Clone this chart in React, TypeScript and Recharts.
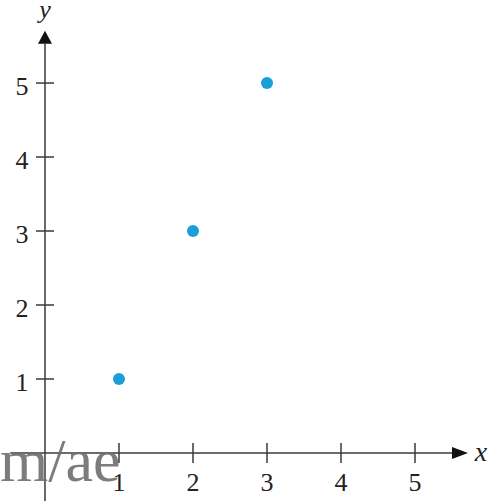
import React from "react";
import { ScatterChart, Scatter, XAxis, YAxis, ReferenceLine, ReferenceDot } from "recharts";

const pointX = [1, 2, 3];
const pointY = [1, 3, 5];
const xTicks = [1, 2, 3, 4, 5];
const yTicks = [1, 2, 3, 4, 5];

const W = 495;
const H = 501;
const X_DOMAIN: [number, number] = [-0.608, 6.081];
const Y_DOMAIN: [number, number] = [-0.649, 6.122];
const X_AXIS_START = -0.47;
const X_AXIS_END = 5.5;
const Y_AXIS_START = -0.649;
const Y_AXIS_END = 5.53;

const AXIS_COLOR = "#3a3a3a";
const POINT_COLOR = "#1a9fdb";
const FONT = "'Liberation Serif', 'DejaVu Serif', serif";

const data = pointX.map((x, i) => ({ x, y: pointY[i] }));

const XTick = (label: string) => (props: any) => (
  <g>
    <line x1={props.cx} x2={props.cx} y1={props.cy - 10} y2={props.cy + 10} stroke={AXIS_COLOR} strokeWidth={1.5} />
    <text x={props.cx} y={props.cy + 38} textAnchor="middle" fontFamily={FONT} fontSize={26} fill="#222">
      {label}
    </text>
  </g>
);

const YTick = (label: string) => (props: any) => (
  <g>
    <line x1={props.cx - 9} x2={props.cx + 9} y1={props.cy} y2={props.cy} stroke={AXIS_COLOR} strokeWidth={1.5} />
    <text x={props.cx - 23} y={props.cy + 12} textAnchor="middle" fontFamily={FONT} fontSize={26} fill="#222">
      {label}
    </text>
  </g>
);

const RightArrow = (props: any) => (
  <g>
    <path d={`M${props.cx},${props.cy - 6} L${props.cx + 16},${props.cy} L${props.cx},${props.cy + 6} Z`} fill="#111" />
    <text x={props.cx + 29} y={props.cy + 8} textAnchor="middle" fontFamily={FONT} fontStyle="italic" fontSize={28} fill="#222">
      x
    </text>
  </g>
);

const UpArrow = (props: any) => (
  <g>
    <path d={`M${props.cx - 7},${props.cy} L${props.cx},${props.cy - 13} L${props.cx + 7},${props.cy} Z`} fill="#111" />
    <text x={props.cx} y={props.cy - 26} textAnchor="middle" fontFamily={FONT} fontStyle="italic" fontSize={26} fill="#222">
      y
    </text>
  </g>
);

const Dot = (props: any) => <circle cx={props.cx} cy={props.cy} r={6} fill={POINT_COLOR} />;

export default function App() {
  return (
    <div style={{ position: "absolute", left: 0, top: 0, width: W, height: H, background: "#fff" }}>
      <ScatterChart width={W} height={H} margin={{ top: 0, right: 0, bottom: 0, left: 0 }}>
        <XAxis hide type="number" dataKey="x" domain={X_DOMAIN} allowDataOverflow />
        <YAxis hide type="number" dataKey="y" domain={Y_DOMAIN} allowDataOverflow />
        <ReferenceLine
          segment={[{ x: X_AXIS_START, y: 0 }, { x: X_AXIS_END, y: 0 }]}
          stroke={AXIS_COLOR}
          strokeWidth={1.5}
          ifOverflow="visible"
        />
        <ReferenceLine
          segment={[{ x: 0, y: Y_AXIS_START }, { x: 0, y: Y_AXIS_END }]}
          stroke={AXIS_COLOR}
          strokeWidth={1.5}
          ifOverflow="visible"
        />
        {xTicks.map((t) => (
          <ReferenceDot key={"xt" + t} x={t} y={0} r={0} ifOverflow="visible" shape={XTick(String(t))} />
        ))}
        {yTicks.map((t) => (
          <ReferenceDot key={"yt" + t} x={0} y={t} r={0} ifOverflow="visible" shape={YTick(String(t))} />
        ))}
        <ReferenceDot x={X_AXIS_END} y={0} r={0} ifOverflow="visible" shape={RightArrow} />
        <ReferenceDot x={0} y={Y_AXIS_END} r={0} ifOverflow="visible" shape={UpArrow} />
        <Scatter data={data} isAnimationActive={false} shape={Dot} />
      </ScatterChart>
      <div
        style={{
          position: "absolute",
          left: 0,
          top: 425,
          fontFamily: FONT,
          fontSize: 62,
          lineHeight: "70px",
          color: "rgba(110,110,110,0.9)",
          pointerEvents: "none",
        }}
      >
        m/ae
      </div>
    </div>
  );
}
